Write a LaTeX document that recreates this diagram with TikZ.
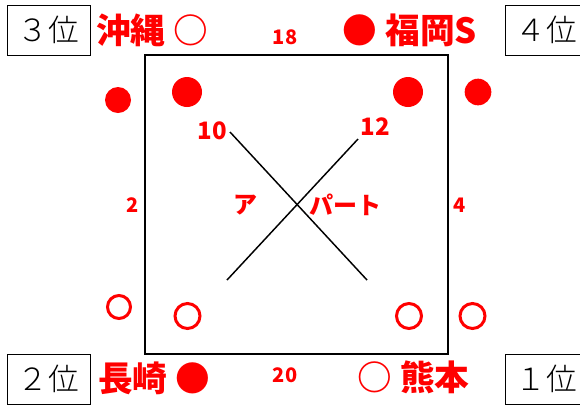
\documentclass[tikz,border=0pt]{standalone}
\usepackage{fontspec}
\newfontfamily\jp{Noto Sans CJK JP}
\newfontfamily\jplight{Noto Sans CJK JP Light}
\usetikzlibrary{positioning}
\tikzset{
  rank/.style={draw, line width=0.75pt, inner sep=0pt, minimum width=62.25pt, minimum height=37.5pt,
    font=\jplight\fontsize{23}{23}\selectfont},
  city/.style={text=red, inner sep=0pt, font=\jp\bfseries\fontsize{26}{26}\selectfont},
  side/.style={text=red, inner sep=0pt, font=\jp\bfseries\fontsize{15}{15}\selectfont},
  diag/.style={text=red, inner sep=0pt, font=\jp\bfseries\fontsize{18}{18}\selectfont},
  kana/.style={text=red, inner sep=0pt, font=\jp\bfseries\fontsize{18}{18}\selectfont},
  full/.style={circle, fill=red, inner sep=0pt},
  open/.style={circle, draw=red, line width=2.25pt, inner sep=0pt, minimum size=18.75pt},
}
\begin{document}
\begin{tikzpicture}[x=0.75pt, y=-0.75pt]
    \useasboundingbox (0,0) rectangle (580,405);
    \clip (0,0) rectangle (580,405);
    % ranks
    \node[rank] (rank3) at (48.5,30) {３位};
    \node[rank] (rank4) at (546.5,30) {４位};
    \node[rank] (rank2) at (48.5,379) {２位};
    \node[rank] (rank1) at (546.5,379) {１位};
    % cities
    \node[city] (okinawa) at (152,30) {沖縄 ○};
    \node[city] (fukuoka) at (410,30) {● 福岡S};
    \node[city] (nagasaki) at (154,378) {長崎 ●};
    \node[city] (kumamoto) at (413.5,377) {○ 熊本};
    % apartment
    \node[draw, line width=1.5pt, inner sep=0pt, minimum width=227.25pt, minimum height=224.25pt] (apt) at (296.5,204.5) {};
    \coordinate (nw) at (230,132);
    \coordinate (se) at (367,280);
    \coordinate (sw) at (227,280);
    \coordinate (ne) at (358,139);
    \draw[line width=1.1pt] (nw) -- (se);
    \draw[line width=1.1pt] (sw) -- (ne);
    \node[diag] (n10) at (212,131) {10};
    \node[diag] (n12) at (375,127) {12};
    \node[kana] (a) at (245,205) {ア};
    \node[kana] (part) at (345,205) {パート};
    \node[side] (n18) at (285,37) {18};
    \node[side] (n20) at (285,375) {20};
    \node[side] (n2) at (133,205) {2};
    \node[side] (n4) at (460,205) {4};
    % marks
    \node[full, minimum size=19.5pt] (tl1) at (118,100) {};
    \node[full, minimum size=22.5pt] (tl2) at (187,92) {};
    \node[full, minimum size=22.5pt] (tr2) at (408,92) {};
    \node[full, minimum size=20pt] (tr1) at (478,92) {};
    \node[open, minimum size=17.25pt] (bl1) at (119,307) {};
    \node[open] (bl2) at (187.5,316) {};
    \node[open] (br2) at (409,316) {};
    \node[open] (br1) at (472.5,316) {};
\end{tikzpicture}
\end{document}
